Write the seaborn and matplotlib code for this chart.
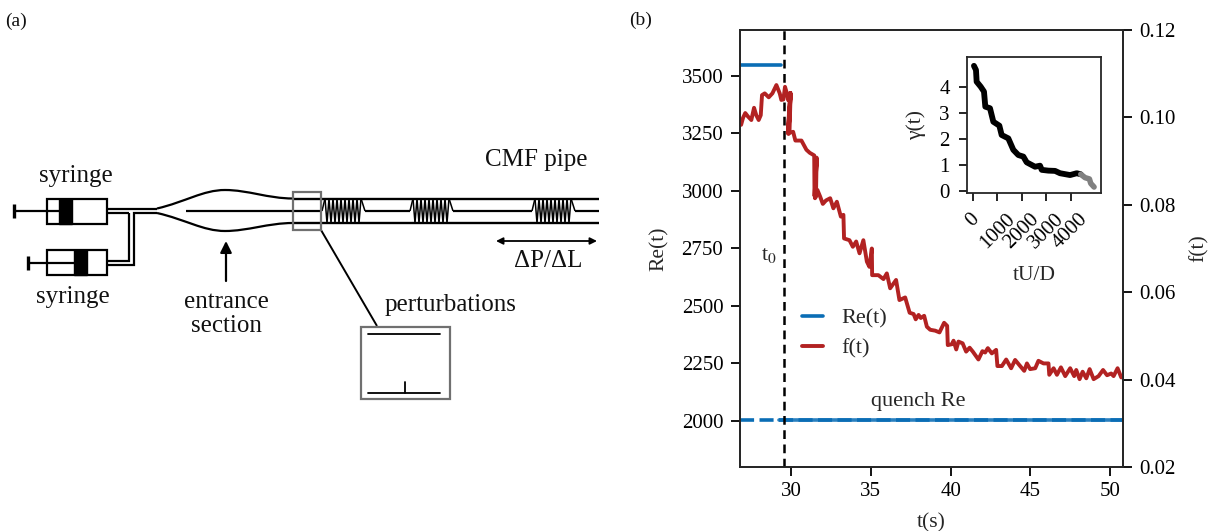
import numpy as np
import pandas as pd
import matplotlib
matplotlib.use('Agg')
import matplotlib.pyplot as plt
from matplotlib.patches import Rectangle, PathPatch
from matplotlib.path import Path
import seaborn as sns

# friction factor trace f(t)
f_time = [26.87, 26.99, 27.13, 27.30, 27.51, 27.68, 27.82, 27.97, 28.10, 28.18, 28.35, 28.60, 28.83,
          29.08, 29.29, 29.39, 29.52, 29.62, 29.77, 29.81, 29.94,
          29.80, 29.97, 29.84, 29.97, 29.90, 30.13, 30.27, 30.65, 30.96, 31.17, 31.45,
          31.47, 31.60, 31.50, 31.60, 31.56, 31.65, 31.82, 31.99, 32.19, 32.45, 32.65, 32.87,
          33.12, 33.28, 33.32, 33.66, 33.87, 34.08, 34.29, 34.53, 34.75, 34.91, 35.06, 35.08,
          35.47, 35.79, 36.00, 36.21, 36.58, 36.79, 37.15, 37.43, 37.68, 37.81, 37.99, 38.13,
          38.34, 38.51, 38.72, 39.03, 39.30, 39.59, 39.78, 39.82, 40.08, 40.18, 40.35, 40.49,
          40.75, 40.97, 41.19, 41.39, 41.74, 41.99, 42.16, 42.33, 42.58, 42.85, 42.93, 43.21,
          43.48, 43.79, 44.04, 44.31, 44.61, 44.78, 44.98, 45.30, 45.50, 45.82, 46.13, 46.18,
          46.45, 46.66, 46.91, 47.18, 47.49, 47.74, 47.87, 48.08, 48.27, 48.50, 48.71, 48.96,
          49.27, 49.55, 49.80, 50.06, 50.21, 50.46, 50.69, 50.88]
f_value = [.0983, .0999, .1010, .1002, .0994, .1022, .1005, .0994, .1005, .1051, .1055, .1046, .1055,
           .1074, .1055, .1040, .1041, .1070, .1051, .1040, .1056,
           .0964, .1056, .0962, .1052, .0965, .0967, .0947, .0947, .0926, .0919, .0913,
           .0820, .0908, .0815, .0905, .0818, .0834, .0819, .0802, .0810, .0815, .0792, .0807,
           .0773, .0777, .0723, .0719, .0704, .0716, .0689, .0719, .0670, .0658, .0700, .0639,
           .0639, .0630, .0643, .0609, .0628, .0582, .0588, .0553, .0550, .0538, .0548, .0541,
           .0546, .0521, .0514, .0512, .0508, .0530, .0523, .0479, .0481, .0489, .0469, .0487,
           .0483, .0464, .0473, .0464, .0446, .0465, .0462, .0472, .0460, .0468, .0431, .0431,
           .0446, .0426, .0445, .0433, .0420, .0437, .0424, .0426, .0443, .0437, .0437, .0411,
           .0426, .0411, .0428, .0408, .0426, .0408, .0422, .0401, .0418, .0403, .0424, .0401,
           .0408, .0422, .0410, .0414, .0408, .0426, .0405, .0411]

# Reynolds number before and after the quench
re_start_time = [26.8, 29.37]
re_start = [3548, 3548]
re_quench_time = [26.8, 50.8]
re_quench = [2004, 2004]
re_solid_time = [29.25, 50.8]

# inset gamma(t)
gamma_time = [40, 123, 150, 315, 451, 505, 697, 834, 1080, 1175, 1448, 1653, 1858, 2063, 2200,
              2543, 2747, 2817, 3088, 3362, 3567, 3977, 4252, 4416]
gamma_value = [4.80, 4.64, 4.19, 4.00, 3.81, 3.23, 3.17, 2.65, 2.50, 2.14, 2.01, 1.57, 1.37, 1.31,
               1.09, 0.92, 0.96, 0.80, 0.77, 0.76, 0.67, 0.60, 0.67, 0.63]
gamma_end_time = [4416, 4592, 4770, 4825, 4961]
gamma_end_value = [0.63, 0.50, 0.45, 0.28, 0.14]

re_ticks = [2000, 2250, 2500, 2750, 3000, 3250, 3500]
f_ticks = [0.02, 0.04, 0.06, 0.08, 0.10, 0.12]
t_ticks = [30, 35, 40, 45, 50]
t0 = 29.56

BLUE = '#0a6db5'
RED = '#b22222'
GREY = '#707070'

sns.set_style('ticks')
plt.rcParams['font.family'] = ['Liberation Serif', 'DejaVu Serif']
plt.rcParams['mathtext.fontset'] = 'stix'
plt.rcParams['axes.linewidth'] = 1.3

W, H = 1212, 531
fig = plt.figure(figsize=(W / 100, H / 100), dpi=100)


def box(l, t, r, b):
    # pixel box -> figure fractions
    return [l / W, (H - b) / H, (r - l) / W, (b - t) / H]


# ---- panel (a): the schematic, in picture pixels ----
sk = fig.add_axes([0, 0, 1, 1])
sk.set_xlim(0, W)
sk.set_ylim(H, 0)
sk.axis('off')


def seg(xs, ys, c='k', lw=1.6):
    sk.plot(xs, ys, color=c, lw=lw, solid_capstyle='butt', solid_joinstyle='miter')


def syringe(top, hand, plug):
    mid = top + 12.5
    sk.add_patch(Rectangle((47, top), 60, 25, fc='white', ec='k', lw=1.6))
    sk.add_patch(Rectangle((plug, top), 12.5, 25, fc='k', ec='k', lw=1))
    seg([hand, plug], [mid, mid])
    seg([hand, hand], [mid - 7, mid + 7], lw=2.4)


syringe(198.5, 14, 59)
syringe(250, 28, 74)

# feed tubes
seg([107, 157], [208.5, 208.5])
seg([107, 129, 129], [261, 261, 213])
seg([107, 129], [213, 213])
seg([107, 134, 134, 157], [265, 265, 213, 213])

# entrance contraction
for y0, y1, y2 in [(208.5, 190, 198.5), (213, 231, 223)]:
    verts = [(157, y0), (185, y0 + (y1 - y0) * 0.35), (203, y1), (225, y1),
             (248, y1), (268, y2), (293, y2)]
    codes = [Path.MOVETO] + [Path.CURVE4] * 6
    sk.add_patch(PathPatch(Path(verts, codes), fc='none', ec='k', lw=1.6))
seg([186, 322], [211, 211])

# pipe walls
seg([292, 599], [198.5, 198.5], lw=1.7)
seg([292, 599], [223, 223], lw=1.7)

# puffs: a zigzag between the walls, centre line between puffs
puff_starts = [322, 410, 532]
puff_ends = [365, 453, 575]
for a, b in zip(puff_starts, puff_ends):
    xs = np.linspace(a + 3, b - 4, 19)
    ys = np.where(np.arange(19) % 2 == 0, 198.5, 223)
    seg(xs, ys, lw=1.1)
    seg([a, a + 3], [211, 198.5], lw=1.1)
    seg([b - 4, b], [198.5, 211], lw=1.1)
seg([365, 410], [211, 211])
seg([453, 532], [211, 211])
seg([575, 599], [211, 211])

# grey zoom box and its enlargement
sk.add_patch(Rectangle((293, 192), 28, 38, fc='none', ec=GREY, lw=1.6, zorder=5))
seg([321, 377], [230, 326], lw=1.4)
sk.add_patch(Rectangle((361, 327), 89, 72, fc='white', ec=GREY, lw=1.6, zorder=5))
for y in [334, 393]:
    sk.plot([368, 440], [y, y], color='k', lw=1.3, zorder=6)
sk.plot([405, 405], [382, 393], color='k', lw=1.3, zorder=6)

# arrows
sk.annotate('', xy=(226, 241), xytext=(226, 281),
            arrowprops=dict(arrowstyle='-|>', color='k', lw=1.6, mutation_scale=17, shrinkA=0, shrinkB=0))
sk.annotate('', xy=(597, 241), xytext=(496, 241),
            arrowprops=dict(arrowstyle='<|-|>', color='k', lw=1.3, mutation_scale=10, shrinkA=0, shrinkB=0))

txt = dict(fontsize=18, ha='center', va='center', color='#111111')
sk.text(76, 176, 'syringe', **txt)
sk.text(73, 297, 'syringe', **txt)
sk.text(226, 302, 'entrance', **txt)
sk.text(226, 326, 'section', **txt)
sk.text(536, 160, 'CMF pipe', **txt)
sk.text(548, 261, 'ΔP/ΔL', **txt)
sk.text(451, 305, 'perturbations', **txt)
sk.text(16, 21, '(a)', fontsize=14, ha='center', va='center', color='#111111')
sk.text(641, 20, '(b)', fontsize=14, ha='center', va='center', color='#111111')

# ---- panel (b): Re(t) and f(t) ----
ax = fig.add_axes(box(740, 30, 1123, 467))
ax_f = ax.twinx()

start_df = pd.DataFrame({'t': re_start_time, 're': re_start})
quench_df = pd.DataFrame({'t': re_quench_time, 're': re_quench})
solid_df = pd.DataFrame({'t': re_solid_time, 're': re_quench})
f_df = pd.DataFrame({'t': f_time, 'f': f_value})

sns.lineplot(data=start_df, x='t', y='re', color=BLUE, lw=2.6, ax=ax, label='Re(t)')
# quench level: dashed up to t0, then a paler line under the dashes closes the gaps
sns.lineplot(data=quench_df, x='t', y='re', color=BLUE, lw=2.6, ax=ax, linestyle=(0, (3.9, 1.5)), label='_q1')
sns.lineplot(data=solid_df, x='t', y='re', color='#2a80bf', lw=2.6, ax=ax, label='_q2', zorder=1.5)
ax.axvline(t0, color='k', lw=1.8, ls=(0, (3.5, 2.2)), zorder=4)

sns.lineplot(data=f_df, x='t', y='f', sort=False, estimator=None, color=RED, lw=2.8, ax=ax_f, label='f(t)')
ax_f.get_legend().remove()

ax.set_xlim(26.8, 50.8)
ax.set_ylim(1800, 3700)
ax_f.set_ylim(0.02, 0.12)
ax.set_xticks(t_ticks)
ax.set_yticks(re_ticks)
ax_f.set_yticks(f_ticks)
ax_f.set_yticklabels([f'{v:.2f}' for v in f_ticks])
ax.set_xlabel('t(s)', fontsize=15.5, labelpad=8.5)
ax.set_ylabel('Re(t)', fontsize=15.5, labelpad=9)
ax_f.set_ylabel('f(t)', fontsize=15.5, labelpad=9.5)
for a in (ax, ax_f):
    a.tick_params(labelsize=15, length=6.5, width=1.3, colors='k', pad=5.5)
    for s in a.spines.values():
        s.set_visible(True)
ax.tick_params(axis='x', pad=4.5)

ax.text(28.63, 2720, 't$_0$', fontsize=16, ha='center', va='center')
ax.text(38.0, 2085, 'quench Re', fontsize=16, ha='center', va='center')

h1 = ax.get_legend_handles_labels()
h2 = ax_f.get_legend_handles_labels()
ax.legend(h1[0][:1] + h2[0], h1[1][:1] + h2[1], loc='upper left', bbox_to_anchor=(0.11, 0.41),
          frameon=False, fontsize=16, handlelength=0.95, handletextpad=0.8, labelspacing=0.45)

# ---- inset gamma(t) ----
ins = fig.add_axes(box(967, 57, 1101, 193))
sns.lineplot(x=gamma_time, y=gamma_value, sort=False, estimator=None, color='k', lw=4.2, ax=ins)
sns.lineplot(x=gamma_end_time, y=gamma_end_value, sort=False, estimator=None, color='#808080', lw=4.0, ax=ins)
ins.set_xlim(-245, 5245)
ins.set_ylim(-0.09, 5.14)
ins.set_xticks([0, 1000, 2000, 3000, 4000])
ins.set_yticks([0, 1, 2, 3, 4])
ins.tick_params(labelsize=15, length=5.8, width=1.2, colors='k', pad=6.5)
ins.tick_params(axis='x', labelrotation=45)
ins.set_xlabel('tU/D', fontsize=15.5, labelpad=9.6)
ins.set_ylabel('γ(t)', fontsize=15.5, labelpad=9.7)
for s in ins.spines.values():
    s.set_visible(True)

fig.savefig('out.png', dpi=100)
